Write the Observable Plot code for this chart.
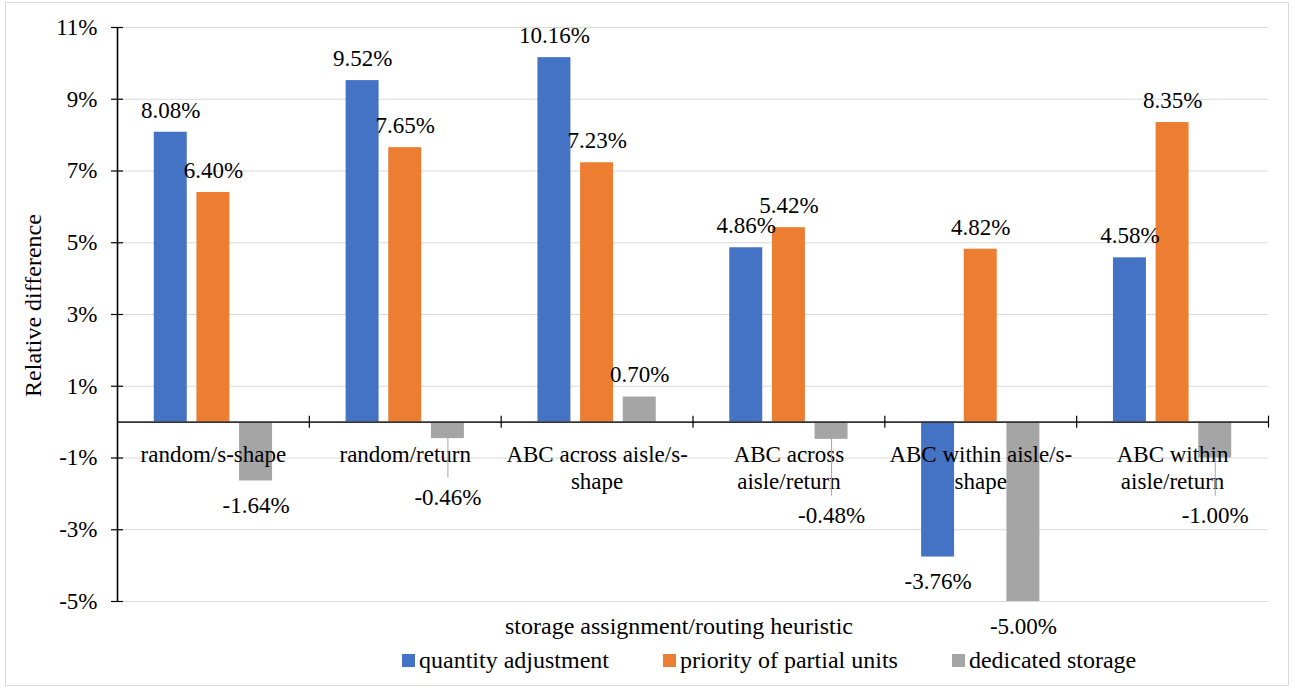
<!DOCTYPE html>
<html>
<head>
<meta charset="utf-8">
<script src="https://cdn.jsdelivr.net/npm/d3@7"></script>
<script src="https://cdn.jsdelivr.net/npm/@observablehq/plot@0.6"></script>
<style>
  html, body { margin: 0; padding: 0; background: #fff; }
  #wrap { position: relative; width: 1295px; height: 688px; font-family: "Liberation Serif", "Times New Roman", serif; }
  #border { position: absolute; left: 5px; top: 2px; width: 1282px; height: 682px; border: 1px solid #d9d9d9; pointer-events: none; }
  #legend { position: absolute; left: 402px; top: 647px; display: flex; gap: 54px; font-size: 24px; color: #000; line-height: 26px; }
  #legend .item { display: flex; align-items: center; gap: 4px; }
  #legend .sw { width: 13px; height: 13px; display: inline-block; }
  #chart svg text { font-family: "Liberation Serif", "Times New Roman", serif; }
</style>
</head>
<body>
<div id="wrap"><div id="chart"></div><div id="legend"></div><div id="border"></div></div>
<script>
// ---- data ----
const categories = ["random/s-shape", "random/return", "ABC across aisle/s-shape", "ABC across aisle/return", "ABC within aisle/s-shape", "ABC within aisle/return"];
const series = ["quantity adjustment", "priority of partial units", "dedicated storage"];
const quantityAdjustment = [8.08, 9.52, 10.16, 4.86, -3.76, 4.58];
const priorityOfPartialUnits = [6.40, 7.65, 7.23, 5.42, 4.82, 8.35];
const dedicatedStorage = [-1.64, -0.46, 0.70, -0.48, -5.00, -1.00];
const yTicks = [-5, -3, -1, 1, 3, 5, 7, 9, 11];
const colors = ["#4472C4", "#ED7D31", "#A5A5A5"];
const xTitle = "storage assignment/routing heuristic";
const yTitle = "Relative difference";

// ---- layout ----
const W = 1295, H = 645;
const mTop = 27, mBottom = 44, mLeft = 117, mRight = 27;
const FONT = "Liberation Serif, Times New Roman, serif";

const valuesBySeries = [quantityAdjustment, priorityOfPartialUnits, dedicatedStorage];
const data = [];
categories.forEach((c, i) => series.forEach((s, j) => data.push({cat: c, ci: i, series: s, value: valuesBySeries[j][i]})));

// nested band within each category unit
const sb = d3.scaleBand(series, [0, 1]).paddingInner(0.227).paddingOuter(0.862);

// text wrapping (break after spaces and hyphens), like the category axis
const ctx = document.createElement("canvas").getContext("2d");
ctx.font = "23px 'Liberation Serif', 'Times New Roman', serif";
const catWidthPx = (W - mLeft - mRight) / categories.length;
function wrap(text, maxW) {
  const parts = text.split(/(?<=[ -])/);
  const lines = []; let line = "";
  for (const p of parts) {
    if (line && ctx.measureText((line + p).trimEnd()).width > maxW) { lines.push(line.trimEnd()); line = p; }
    else line += p;
  }
  if (line) lines.push(line.trimEnd());
  return lines;
}
const catLines = categories.map(c => wrap(c, catWidthPx - 1));

const ys = Plot.scale({y: {domain: [-5, 11], range: [H - mBottom, mTop]}});
const zeroPx = ys.apply(0);
data.forEach(d => {
  d.xc = d.ci + sb(d.series) + sb.bandwidth() / 2;
  const barEnd = ys.apply(d.value);
  let px, pushed = false;
  if (d.value >= 0) px = barEnd - 22;
  else {
    const natural = barEnd + 25;
    const below = zeroPx + 57 + 18 * catLines[d.ci].length;
    px = Math.max(natural, below);
    pushed = below > natural;
  }
  d.labelY = ys.invert(px);
  d.pushed = pushed;
  d.leaderEnd = ys.invert(px - 19);
  d.label = d.value.toFixed(2) + "%";
});

const chart = Plot.plot({
  width: W, height: H,
  marginTop: mTop, marginBottom: mBottom, marginLeft: mLeft, marginRight: mRight,
  style: {fontFamily: FONT, background: "transparent", color: "#000", overflow: "visible"},
  x: {domain: [0, categories.length], axis: null},
  y: {domain: [-5, 11], axis: null},
  color: {domain: series, range: colors},
  marks: [
    Plot.ruleY(yTicks, {stroke: "#d9d9d9", strokeWidth: 1.2}),
    Plot.axisY({ticks: yTicks, tickSize: 0, tickPadding: 20, tickFormat: d => d + "%", fontSize: 23, fontFamily: FONT, fill: "#000"}),
    Plot.rectY(data, {x1: d => d.ci + sb(d.series), x2: d => d.ci + sb(d.series) + sb.bandwidth(), y1: 0, y2: "value", fill: "series"}),
    Plot.ruleY([0], {stroke: "#333", strokeWidth: 1.6}),
    Plot.ruleX([0], {stroke: "#000", strokeWidth: 1.6}),
    Plot.ruleY(yTicks, {x1: 0, x2: 0, insetLeft: -6, insetRight: -6, stroke: "#000", strokeWidth: 1.2}),
    Plot.ruleX(d3.range(1, categories.length + 1), {y1: 0, y2: 0, insetTop: -6, insetBottom: -6, stroke: "#000", strokeWidth: 1.2}),
    Plot.text(categories, {x: (d, i) => i + 0.5, y: () => 0, text: (d, i) => catLines[i].join("\n"), lineAnchor: "top", dy: 21, lineHeight: 27 / 23, fontSize: 23, fontFamily: FONT, fill: "#000"}),
    Plot.ruleX(data.filter(d => d.pushed), {x: "xc", y1: "value", y2: "leaderEnd", stroke: "#a6a6a6", strokeWidth: 1}),
    Plot.text(data, {x: "xc", y: "labelY", text: "label", fontSize: 23, fontFamily: FONT, fill: "#000"}),
    Plot.text([xTitle], {frameAnchor: "bottom", lineAnchor: "middle", dy: 25, dx: -14, fontSize: 24, fontFamily: FONT, fill: "#000"}),
    Plot.text([yTitle], {frameAnchor: "left", textAnchor: "middle", lineAnchor: "middle", rotate: -90, dx: -84, dy: -9, fontSize: 24, fontFamily: FONT, fill: "#000"})
  ]
});
document.getElementById("chart").appendChild(chart);

// legend below the chart
const legend = document.getElementById("legend");
series.forEach((s, j) => {
  const item = document.createElement("div");
  item.className = "item";
  const sw = document.createElement("span");
  sw.className = "sw"; sw.style.background = colors[j];
  const t = document.createElement("span"); t.textContent = s;
  item.appendChild(sw); item.appendChild(t);
  legend.appendChild(item);
});
</script>
</body>
</html>
